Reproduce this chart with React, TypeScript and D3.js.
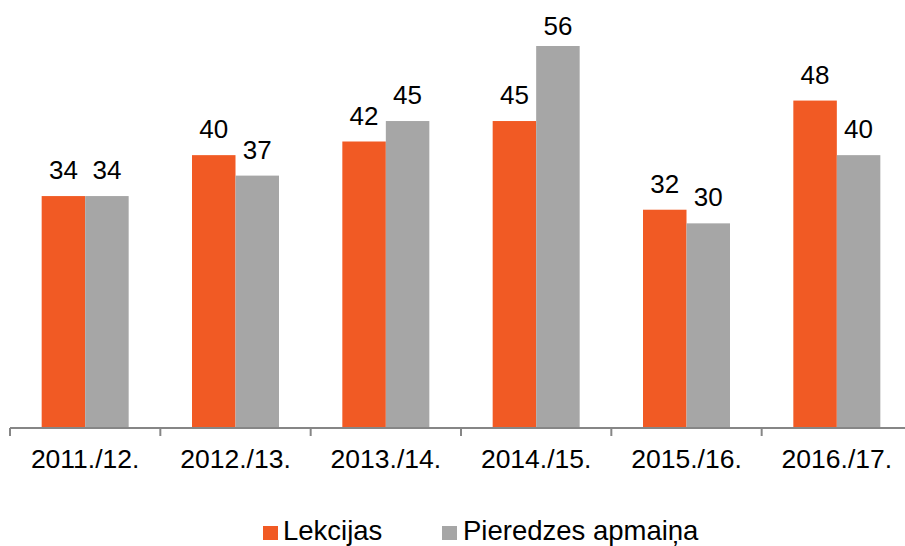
import React from "react";
import * as d3 from "d3";

const categories = ["2011./12.", "2012./13.", "2013./14.", "2014./15.", "2015./16.", "2016./17."];
const lekcijas = [34, 40, 42, 45, 32, 48];
const pieredze = [34, 37, 45, 56, 30, 40];
const seriesNames = ["Lekcijas", "Pieredzes apmaiņa"];
const colors = ["#F15A24", "#A6A6A6"];

const W = 905;
const H = 546;
const FONT = "'Liberation Sans', Arial, sans-serif";

export default function App() {
  const x0 = 10, x1 = 912;
  const baseY = 428;
  const x = d3.scaleBand<string>().domain(categories).range([x0, x1]).paddingInner(0).paddingOuter(0);
  const y = d3.scaleLinear().domain([0, 56]).range([baseY, 46]);
  const barW = 43.5;
  const series = [lekcijas, pieredze];
  const ticks = categories.map((c) => x(c)!).concat([x1]);

  return (
    <svg width={W} height={H} style={{ position: "absolute", left: 0, top: 0 }}>
      <rect width={W} height={H} fill="#fff" />
      {categories.map((c, i) => {
        const cx = x(c)! + x.bandwidth() / 2;
        return (
          <g key={c}>
            {series.map((s, j) => {
              const bx = cx - barW + j * barW;
              const ly = Math.max(y(s[i]) - 17, 35);
              return (
                <g key={j}>
                  <rect x={bx} y={y(s[i])} width={barW} height={baseY - y(s[i])} fill={colors[j]} />
                  <text x={bx + barW / 2} y={ly} textAnchor="middle" fontFamily={FONT} fontSize={26} fill="#000">
                    {s[i]}
                  </text>
                </g>
              );
            })}
            <text x={cx} y={468} textAnchor="middle" fontFamily={FONT} fontSize={26.5} fill="#000">
              {c}
            </text>
          </g>
        );
      })}
      <line x1={x0} x2={W} y1={baseY} y2={baseY} stroke="#868686" strokeWidth={2} />
      {ticks.map((t, i) => (
        <line key={i} x1={t} x2={t} y1={baseY} y2={baseY + 8} stroke="#868686" strokeWidth={2} />
      ))}
      <g>
        <rect x={263} y={526} width={15} height={14} fill={colors[0]} />
        <text x={283} y={540} fontFamily={FONT} fontSize={27.5} fill="#000">{seriesNames[0]}</text>
        <rect x={442} y={526} width={15} height={14} fill={colors[1]} />
        <text x={463} y={540} fontFamily={FONT} fontSize={27.5} fill="#000">{seriesNames[1]}</text>
      </g>
    </svg>
  );
}
